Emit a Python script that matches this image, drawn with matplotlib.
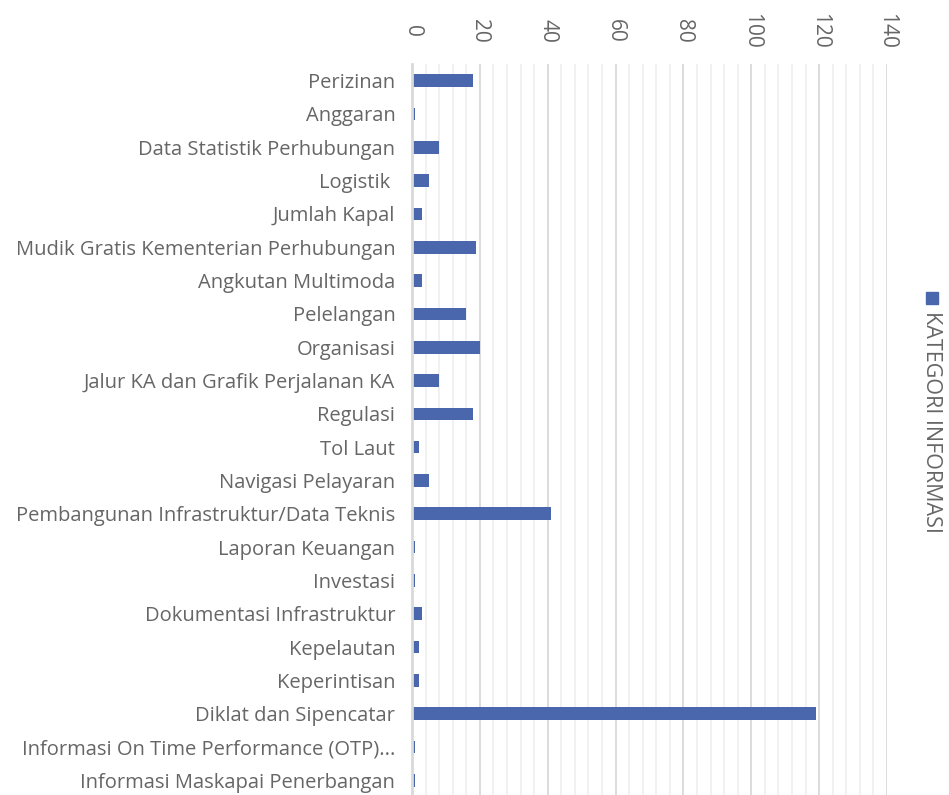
import matplotlib
matplotlib.use("Agg")
import matplotlib.pyplot as plt
from matplotlib.ticker import MultipleLocator
from matplotlib.patches import Rectangle

categories = [
    "Perizinan", "Anggaran", "Data Statistik Perhubungan", "Logistik ",
    "Jumlah Kapal", "Mudik Gratis Kementerian Perhubungan", "Angkutan Multimoda",
    "Pelelangan", "Organisasi", "Jalur KA dan Grafik Perjalanan KA", "Regulasi",
    "Tol Laut", "Navigasi Pelayaran", "Pembangunan Infrastruktur/Data Teknis",
    "Laporan Keuangan", "Investasi", "Dokumentasi Infrastruktur", "Kepelautan",
    "Keperintisan", "Diklat dan Sipencatar", "Informasi On Time Performance (OTP)...",
    "Informasi Maskapai Penerbangan",
]
values = [18, 1, 8, 5, 3, 19, 3, 16, 20, 8, 18, 2, 5, 41, 1, 1, 3, 2, 2, 119, 1, 1]
x_ticks = [0, 20, 40, 60, 80, 100, 120, 140]
series_name = "KATEGORI INFORMASI"

plt.rcParams['font.family'] = ['Open Sans', 'DejaVu Sans']
txt = '#666666'
bar_color = '#4A67AE'

W, H = 949, 795
fig = plt.figure(figsize=(W / 100, H / 100), dpi=100)
left = 412 / W
right = 887 / W
top = 1 - 64 / H
bottom = 1 - 797 / H
ax = fig.add_axes([left, bottom, right - left, top - bottom])

y = list(range(len(categories)))
ax.barh(y, values, height=0.38, color=bar_color, zorder=3)
ax.set_ylim(len(categories) - 0.5, -0.5)
ax.set_xlim(0, 140)

ax.xaxis.set_major_locator(MultipleLocator(20))
ax.xaxis.set_minor_locator(MultipleLocator(4))
ax.set_xticks(x_ticks)
ax.grid(axis='x', which='major', color='#d9d9d9', linewidth=1.3, zorder=0)
ax.grid(axis='x', which='minor', color='#f0f0f0', linewidth=1.3, zorder=0)
ax.xaxis.tick_top()
ax.tick_params(axis='x', which='both', length=0, labelsize=15, labelcolor=txt, pad=24)
for lab in ax.get_xticklabels():
    lab.set_rotation(270)
    lab.set_va('center')
    lab.set_ha('center')

ax.set_yticks(y)
ax.set_yticklabels(categories)
ax.tick_params(axis='y', length=0, labelsize=14.5, labelcolor=txt, pad=12)

for s in ['top', 'right', 'bottom']:
    ax.spines[s].set_visible(False)
ax.spines['left'].set_color('#d9d9d9')
ax.spines['left'].set_linewidth(2)
ax.spines['left'].set_zorder(4)

# legend (rotated)
fig.patches.append(Rectangle((926 / W, 1 - 304 / H), 12 / W, 12 / H,
                             transform=fig.transFigure, color=bar_color))
fig.text(932 / W, 1 - 311 / H, series_name, rotation=270, ha='center', va='top',
         fontsize=15.5, color=txt)

fig.savefig("out.png", dpi=100)
